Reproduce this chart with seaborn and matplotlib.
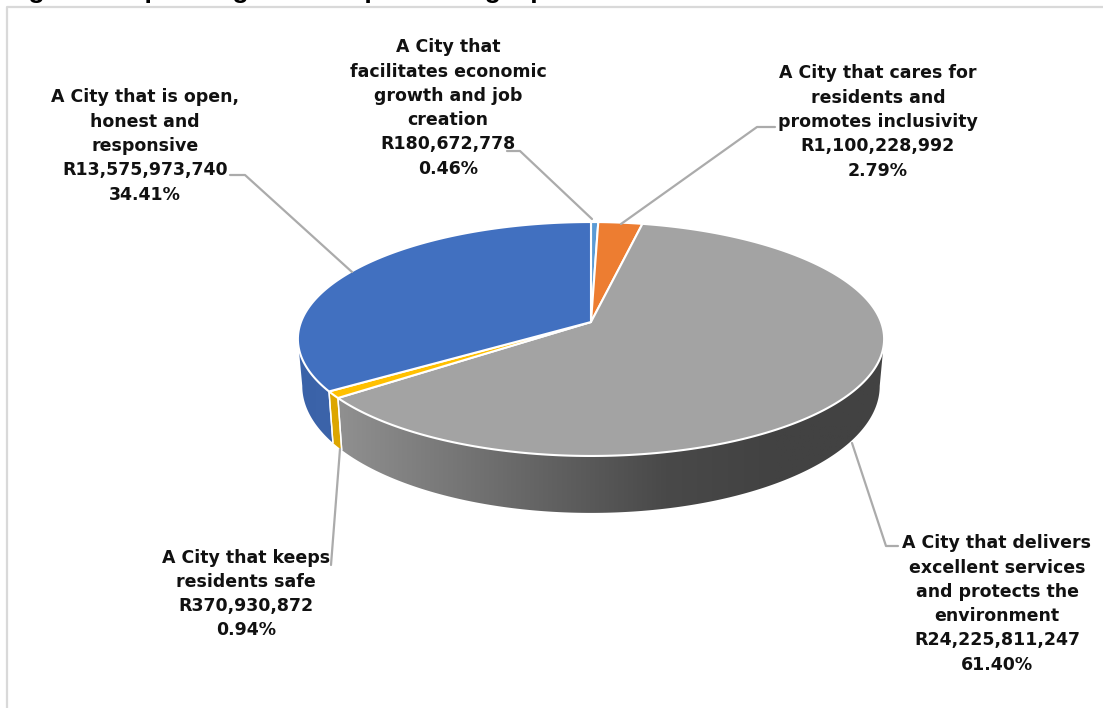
import numpy as np
import matplotlib
matplotlib.use("Agg")
import matplotlib.pyplot as plt
from matplotlib.colors import LinearSegmentedColormap
from matplotlib.patches import Polygon
import seaborn as sns

# ---- data -------------------------------------------------------------
names = [
    "A City that\nfacilitates economic\ngrowth and job\ncreation",
    "A City that cares for\nresidents and\npromotes inclusivity",
    "A City that delivers\nexcellent services\nand protects the\nenvironment",
    "A City that keeps\nresidents safe",
    "A City that is open,\nhonest and\nresponsive",
]
values = [180672778, 1100228992, 24225811247, 370930872, 13575973740]
percent_labels = ["0.46%", "2.79%", "61.40%", "0.94%", "34.41%"]
value_labels = ["R180,672,778", "R1,100,228,992", "R24,225,811,247", "R370,930,872", "R13,575,973,740"]
top_colors = ["#5B9BD5", "#ED7D31", "#A3A3A3", "#FFC000", "#4170C0"]
side_colors = [["#5B9BD5", "#4A86C0"], ["#C96A28", "#C96A28"],
               ["#909090", "#787878", "#606060", "#494949", "#424242", "#424242"],
               ["#DDA600", "#DDA600"], ["#3A62A8", "#3C64AA"]]
title = "Figure 6: Operating revenue per strategic phase"

# ---- layout -----------------------------------------------------------
W, H = 1103, 708
sns.set_theme(style="white")
plt.rcParams["font.family"] = ["DejaVu Sans"]
fig = plt.figure(figsize=(W / 100, H / 100), dpi=100, facecolor="white")
ax = fig.add_axes([0, 0, 1, 1])
ax.set_xlim(0, W)
ax.set_ylim(H, 0)
ax.axis("off")
palette = sns.color_palette(top_colors)

CX, CY = 591, 322
A, C, K = 290.0, 114.5, 0.1453


def top_xy(theta):
    """clockwise angle from 12 o'clock -> position on the tilted disc rim"""
    s, c = np.sin(theta), np.cos(theta)
    w = 1 + K * c
    return CX + A * s / w, CY - C * c / w


def bottom_xy(theta):
    x, y = top_xy(theta)
    return CX + (x - CX) * 0.985, 386 + (y - 339) * 1.085


frac = np.asarray(values, dtype=float) / np.sum(values)
edges = np.concatenate([[0], np.cumsum(frac)]) * 2 * np.pi
front_start = np.arccos(-K)
front_end = 2 * np.pi - front_start

# sides (only the part of the rim that faces the viewer)
for i in range(len(values)):
    t0, t1 = max(edges[i], front_start), min(edges[i + 1], front_end)
    if t1 <= t0:
        continue
    th = np.linspace(t0, t1, 200)
    tx, ty = top_xy(th)
    bx, by = bottom_xy(th)
    pts = np.column_stack([np.r_[tx, bx[::-1]], np.r_[ty, by[::-1]]])
    poly = Polygon(pts, closed=True, fc="none", ec="none")
    ax.add_patch(poly)
    cmap = LinearSegmentedColormap.from_list(f"s{i}", side_colors[i])
    im = ax.imshow(np.linspace(0, 1, 256)[None, :], cmap=cmap, aspect="auto",
                   extent=(pts[:, 0].min(), pts[:, 0].max(), pts[:, 1].max(), pts[:, 1].min()),
                   zorder=2)
    im.set_clip_path(poly)
    if t0 == edges[i]:
        ax.plot(*pts[[0, -1]].T, color="white", lw=1.0, zorder=2.5)
    if t1 == edges[i + 1]:
        ax.plot(*pts[[199, 200]].T, color="white", lw=1.0, zorder=2.5)
ax.set_xlim(0, W)
ax.set_ylim(H, 0)

# top surface
for i in range(len(values)):
    th = np.linspace(edges[i], edges[i + 1], 300)
    tx, ty = top_xy(th)
    ax.add_patch(Polygon(np.column_stack([np.r_[CX, tx], np.r_[CY, ty]]), closed=True,
                         fc=palette[i], ec="white", lw=1.5, zorder=3, joinstyle="round"))

# frame of the chart
ax.plot([1103, 7, 7], [7, 7, 708], color="#d9d9d9", lw=1.6, zorder=1)

# leader lines
leaders = [
    ([507, 520, 592], [151, 151, 219]),
    ([775, 757, 621], [127, 127, 224]),
    ([852, 886, 898], [443, 546, 546]),
    ([340, 331], [449, 565]),
    ([230, 245, 352], [175, 175, 272]),
]
for lx, ly in leaders:
    ax.plot(lx, ly, color="#ABABAB", lw=1.6, zorder=4)

# labels
label_pos = [(448, 108), (878, 122), (997, 604), (246, 594), (145, 146)]
for i, (x, y) in enumerate(label_pos):
    ax.text(x, y, f"{names[i]}\n{value_labels[i]}\n{percent_labels[i]}", ha="center", va="center",
            multialignment="center", fontsize=12.5, fontweight="bold", color="#111111",
            linespacing=1.45, zorder=5)

ax.text(5, -2, title, ha="left", va="baseline", fontsize=19, fontweight="bold",
        family=["Liberation Sans"], color="black")

fig.savefig("out.png", dpi=100)
